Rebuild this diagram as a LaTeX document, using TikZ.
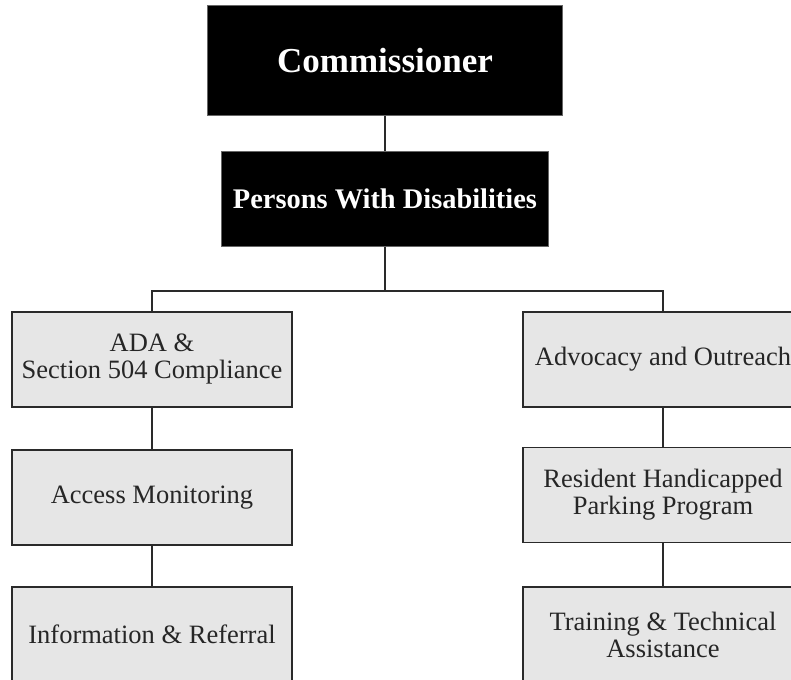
\documentclass[tikz,border=0pt]{standalone}
\usepackage{fontspec}
\setmainfont{Liberation Serif}
\definecolor{boxfill}{HTML}{E6E6E6}
\definecolor{edge}{HTML}{2A2A2A}
\begin{document}
\begin{tikzpicture}[x=1pt,y=-1pt,
  unit/.style={draw=edge, line width=1.4pt, fill=boxfill, minimum width=280pt, minimum height=95pt,
    align=center, inner sep=0pt, font=\fontsize{26.5}{27}\selectfont, text=black!85},
  head/.style={draw=black!60, line width=1pt, fill=black, text=white, align=center, inner sep=0pt,
    font=\bfseries\fontsize{35}{38}\selectfont},
  link/.style={draw=edge, line width=1.5pt}]
\useasboundingbox (0,0) rectangle (791,679);
\clip (0,0) rectangle (791,679);
\node[head, minimum width=355pt, minimum height=110pt] (comm) at (385,61) {Commissioner};
\node[head, minimum width=327pt, minimum height=94pt, font=\bfseries\fontsize{28.4}{31}\selectfont] (pwd) at (385,199) {Persons With Disabilities};
\node[unit] (l1) at (152,359.5) {ADA \&\\Section 504 Compliance};
\node[unit] (l2) at (152,497.5) {Access Monitoring};
\node[unit] (l3) at (152,634.5) {Information \& Referral};
\node[unit] (r1) at (663,359.5) {Advocacy and Outreach};
\node[unit] (r2) at (663,495) {Resident Handicapped\\Parking Program};
\node[unit] (r3) at (663,634.5) {Training \& Technical\\Assistance};
\coordinate (bus) at (385,291);
\draw[link] (comm.south) -- (pwd.north);
\draw[link] (pwd.south) -- (bus);
\draw[link] (bus) -| (l1.north);
\draw[link] (bus) -| (r1.north);
\draw[link] (l1.south) -- (l2.north);
\draw[link] (l2.south) -- (l3.north);
\draw[link] (r1.south) -- (r2.north);
\draw[link] (r2.south) -- (r3.north);
\end{tikzpicture}
\end{document}
